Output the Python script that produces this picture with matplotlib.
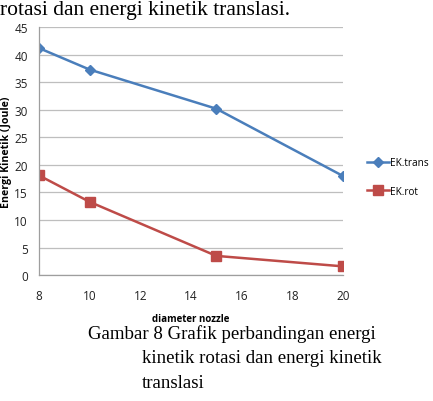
import matplotlib
matplotlib.use("Agg")
import matplotlib.pyplot as plt

diameter = [8, 10, 15, 20]
ek_trans = [41.2, 37.3, 30.2, 18.0]
ek_rot = [18.1, 13.3, 3.5, 1.6]
x_ticks = [8, 10, 12, 14, 16, 18, 20]
y_ticks = [0, 5, 10, 15, 20, 25, 30, 35, 40, 45]

fig = plt.figure(figsize=(4.33, 4.02), dpi=100)
ax = fig.add_axes([0.09, 0.313, 0.702, 0.617])

blue = "#4A7EBB"
red = "#BE4B48"
ax.plot(diameter, ek_trans, color=blue, lw=1.8, marker="D", ms=5.5, label="EK.trans")
ax.plot(diameter, ek_rot, color=red, lw=1.8, marker="s", ms=6.5, label="EK.rot")

ax.set_xlim(8, 20)
ax.set_ylim(0, 45)
ax.set_xticks(x_ticks)
ax.set_yticks(y_ticks)
ax.grid(axis="y", color="#BEBEBE", lw=0.9)
ax.set_axisbelow(True)
for s in ["top", "right"]:
    ax.spines[s].set_visible(False)
for s in ["left", "bottom"]:
    ax.spines[s].set_color("#9E9E9E")
    ax.spines[s].set_linewidth(0.9)
ax.tick_params(length=0, labelsize=8.5, labelcolor="#222222")
ax.tick_params(axis="x", pad=10)
ax.tick_params(axis="y", pad=8)
for lab in ax.get_xticklabels() + ax.get_yticklabels():
    lab.set_family("Open Sans")
ax.set_xlabel("diameter nozzle", fontsize=7, fontweight="bold", family="Open Sans", labelpad=8)
ax.set_ylabel("Energi Kinetik (Joule)", fontsize=7.6, fontweight="bold", family="Open Sans")
ax.yaxis.set_label_coords(-0.088, 0.5)

ax.legend(loc="center left", bbox_to_anchor=(1.05, 0.395), frameon=False,
          prop={"family": "Open Sans", "size": 7.2}, handlelength=2.2,
          handletextpad=0.1, labelspacing=1.75)

fig.text(0.0, 0.975, "rotasi dan energi kinetik translasi.", family="Liberation Serif",
         fontsize=15.5, va="center", ha="left")
fig.text(0.203, 0.168, "Gambar 8 Grafik perbandingan energi", family="Liberation Serif",
         fontsize=13.6, va="center", ha="left")
fig.text(0.328, 0.107, "kinetik rotasi dan energi kinetik", family="Liberation Serif",
         fontsize=13.6, va="center", ha="left")
fig.text(0.328, 0.047, "translasi", family="Liberation Serif",
         fontsize=13.6, va="center", ha="left")

fig.savefig("out.png", dpi=100)
